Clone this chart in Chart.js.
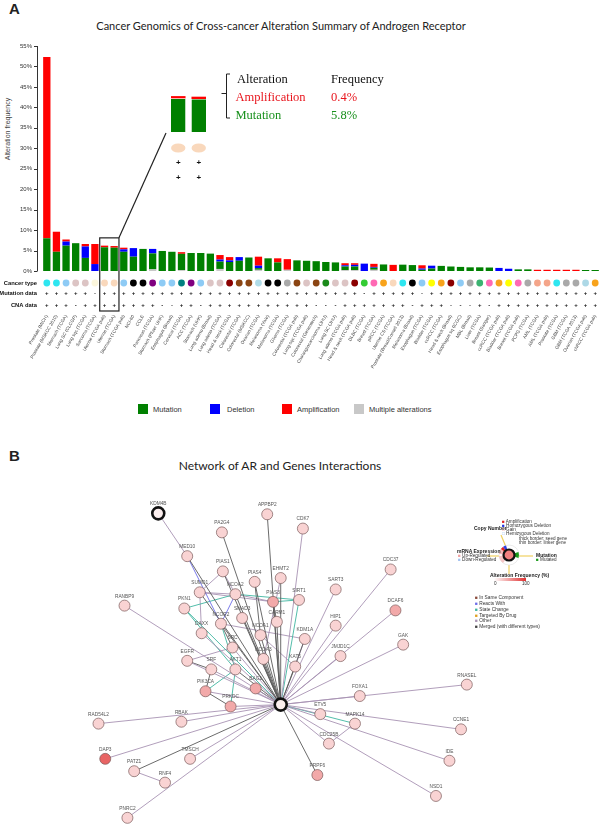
<!DOCTYPE html>
<html>
<head>
<meta charset="utf-8">
<script src="https://cdn.jsdelivr.net/npm/chart.js@4.4.1/dist/chart.umd.min.js"></script>
<style>
html,body{margin:0;padding:0;background:#fff;}
body{position:relative;width:600px;height:839px;overflow:hidden;font-family:"Liberation Sans",Arial,sans-serif;color:#222;}
canvas{position:absolute;}
.t{position:absolute;white-space:nowrap;line-height:1;transform:translateY(-50%);}
.c{position:absolute;white-space:nowrap;line-height:1;transform:translate(-50%,-50%);}
.sq{position:absolute;width:10px;height:10px;}
.lg{position:absolute;white-space:nowrap;line-height:1;transform:translateY(-50%);font-size:4.6px;color:#333;}
.lgb{position:absolute;white-space:nowrap;line-height:1;transform:translateY(-50%);font-size:5px;font-weight:bold;color:#222;}
.ser{font-family:"Liberation Serif","Times New Roman",serif;font-size:12.5px;}
</style>
</head>
<body>
<div class="t" style="left:9px;top:8px;font:bold 15px 'Liberation Sans';">A</div>
<div class="c" style="left:281px;top:25px;font:11px Lato;color:#222">Cancer Genomics of Cross-cancer Alteration Summary of Androgen Receptor</div>
<div class="c" style="left:7px;top:129px;font:7px 'Liberation Sans';transform:translate(-50%,-50%) rotate(-90deg);color:#444">Alteration frequency</div>

<canvas id="main" width="600" height="371" style="left:0;top:0"></canvas>
<canvas id="inset" width="41" height="100" style="left:168px;top:88px"></canvas>

<svg width="600" height="200" style="position:absolute;left:0;top:0" xmlns="http://www.w3.org/2000/svg">
  <path d="M230 74 L226.5 74 L226.5 118 L230 118 M226.5 93.5 L221.5 93.5" stroke="#222" stroke-width="1" fill="none"/>
</svg>
<div class="t ser" style="left:237px;top:79px;color:#111">Alteration</div>
<div class="t ser" style="left:331px;top:79px;color:#111">Frequency</div>
<div class="t ser" style="left:235.5px;top:97px;color:#e8141c">Amplification</div>
<div class="t ser" style="left:331px;top:97px;color:#e8141c">0.4%</div>
<div class="t ser" style="left:235.5px;top:115px;color:#18901c">Mutation</div>
<div class="t ser" style="left:331px;top:115px;color:#18901c">5.8%</div>

<div class="sq" style="left:138px;top:404px;background:#008000"></div>
<div class="t" style="left:153px;top:409px;font:7.5px 'Liberation Sans';color:#333">Mutation</div>
<div class="sq" style="left:210px;top:404px;background:#0000ff"></div>
<div class="t" style="left:227px;top:409px;font:7.5px 'Liberation Sans';color:#333">Deletion</div>
<div class="sq" style="left:282px;top:404px;background:#ff0000"></div>
<div class="t" style="left:297px;top:409px;font:7.5px 'Liberation Sans';color:#333">Amplification</div>
<div class="sq" style="left:354px;top:404px;background:#c8c8c8"></div>
<div class="t" style="left:369px;top:409px;font:7.5px 'Liberation Sans';color:#333">Multiple alterations</div>

<div class="t" style="left:9px;top:455px;font:bold 15px 'Liberation Sans';">B</div>
<div class="c" style="left:280px;top:465px;font:12px Lato;color:#222">Network of AR and Genes Interactions</div>

<canvas id="net" width="480" height="355" style="left:60px;top:480px"></canvas>

<svg width="120" height="80" style="position:absolute;left:450px;top:512px" xmlns="http://www.w3.org/2000/svg">
  <g transform="translate(59,43)">
    <line x1="-8" y1="-20" x2="-3" y2="-8" stroke="#f0d060" stroke-width="1.2"/>
    <line x1="-22" y1="1" x2="-10" y2="1" stroke="#f0d060" stroke-width="1.2"/>
    <line x1="10" y1="1" x2="24" y2="1" stroke="#f0d060" stroke-width="1.2"/>
    <line x1="0" y1="10" x2="0" y2="19" stroke="#f0d060" stroke-width="1.2"/>
    <circle r="10" fill="#fff" stroke="#ddd" stroke-width="0.6"/>
    <path d="M0 0 L-10 -1 A10 10 0 0 1 -6 -8 Z" fill="#f4b6b6"/>
    <path d="M0 0 L-10 1 A10 10 0 0 0 -6 8 Z" fill="#f4c6c6"/>
    <path d="M0 0 L-6 -8 A10 10 0 0 1 -3 -9.5 Z" fill="#3040e0"/>
    <path d="M0 0 L-8 -6 A10 10 0 0 1 -6 -8 Z" fill="#e02020"/>
    <path d="M0 0 L9.5 -3 A10 10 0 0 1 9.5 3 Z" fill="#1a9a1a"/>
    <circle r="5.5" fill="#f08080" stroke="#111" stroke-width="2.2"/>
  </g>
</svg>
<div class="lgb" style="left:474px;top:528px">Copy Number</div>
<div class="lg" style="left:502px;top:522px"><span style="color:#e02020">&#9632;</span> Amplification</div>
<div class="lg" style="left:502px;top:526px"><span style="color:#2030e0">&#9632;</span> Homozygous Deletion</div>
<div class="lg" style="left:502px;top:530px"><span style="color:#f0a0a0">&#9633;</span> Gain</div>
<div class="lg" style="left:502px;top:534px"><span style="color:#a0c0f0">&#9633;</span> Hemizygous Deletion</div>
<div class="lg" style="left:519px;top:539px">thick border: seed gene</div>
<div class="lg" style="left:519px;top:543px">thin border: linker gene</div>
<div class="lgb" style="left:457px;top:551px">mRNA Expression</div>
<div class="lg" style="left:458px;top:556px"><span style="color:#f0a0a0">&#9632;</span> Up-Regulated</div>
<div class="lg" style="left:458px;top:560px"><span style="color:#a0c0f0">&#9632;</span> Down-Regulated</div>
<div class="lgb" style="left:536px;top:555px">Mutation</div>
<div class="lg" style="left:536px;top:560px"><span style="color:#1a9a1a">&#9632;</span> Mutated</div>
<div class="lgb" style="left:490px;top:575px">Alteration Frequency (%)</div>
<div style="position:absolute;left:494px;top:578px;width:32px;height:3px;background:linear-gradient(90deg,#fff,#e03030)"></div>
<div class="lg" style="left:494px;top:584px">0</div>
<div class="lg" style="left:522px;top:584px">100</div>

<div class="lg" style="left:475px;top:598px;font-size:4.8px"><span style="color:#8a4a3a">&#9632;</span> In Same Component</div>
<div class="lg" style="left:475px;top:604px;font-size:4.8px"><span style="color:#6d6de8">&#9632;</span> Reacts With</div>
<div class="lg" style="left:475px;top:610px;font-size:4.8px"><span style="color:#3fb5a0">&#9632;</span> State Change</div>
<div class="lg" style="left:475px;top:616px;font-size:4.8px"><span style="color:#e0a020">&#9632;</span> Targeted By Drug</div>
<div class="lg" style="left:475px;top:621px;font-size:4.8px"><span style="color:#a893b3">&#9632;</span> Other</div>
<div class="lg" style="left:475px;top:627px;font-size:4.8px"><span style="color:#444">&#9632;</span> Merged (with different types)</div>

<script>
// ---------------- Panel A data ----------------
const categories = ["Prostate (MICH)","Prostate (MSKCC 2010)","Stomach (TCGA)","Lung SC (CLCGP)","Lung sqc (TCGA)","Sarcoma (TCGA)","Uterine (TCGA pub)","Uterine (TCGA)","Stomach (TCGA pub)","NCI-60","CCLE","Pancreas (TCGA)","Stomach (Pfizer UHK)","Esophagus (Broad)","Cervical (TCGA)","ACC (TCGA)","Stomach (UHK)","Lung adeno (Broad)","Lung adeno (TCGA)","Head & neck (TCGA)","Colorectal (TCGA)","Colorectal (MSKCC)","Ovarian (TCGA)","Melanoma (Yale)","Melanoma (TCGA)","Glioma (TCGA)","Colorectal (TCGA pub)","Lung sqc (TCGA pub)","Colorectal (Genentech)","Cholangiocarcinoma (JHU)","Lung SC (JHU)","Lung adeno (TCGA pub)","Head & neck (TCGA pub)","DLBC (TCGA)","Breast (TCGA)","pRCC (TCGA)","Uterine CS (TCGA)","Prostate (Broad/Cornell 2013)","Melanoma (Broad)","Esophagus (TCGA)","Bladder (TCGA)","ccRCC (TCGA)","Head & neck (Broad)","Esophagus sq (ICGC)","MBL (Broad)","Liver (TCGA)","Breast (Sanger)","ccRCC (TCGA pub)","Bladder (TCGA pub)","Breast (TCGA pub)","PCPG (TCGA)","AML (TCGA)","AML (TCGA pub)","Prostate (TCGA)","GBM (TCGA)","GBM (TCGA 2013)","Ovarian (TCGA pub)","chRCC (TCGA pub)"];
const mutation = [8.0,4.7,6.2,6.8,3.2,0,5.8,5.7,4.7,3.5, 5.4,3.9,4.9,4.7,4.0,4.4,4.4,4.25,1.8,2.2, 2.5,3.3,0.4,3.1,2.1,0,2.6,2.5,2.4,2.2, 2.1,0.9,0.9,0,0.5,1.6,0,1.55,1.45,0.3, 0.6,1.25,1.1,1.0,0.9,0.9,0.85,0,0,0.4, 0.4,0,0,0,0,0,0.25,0.25];
const deletion = [0,0,1.0,0,2.8,1.7,0,0,0.6,2.1, 0,1.1,0,0,0,0,0,0,0.5,0.4, 0.9,0,0.6,0,0,0,0,0,0,0, 0,0.3,0.4,1.8,0.2,0,0,0,0,0.3, 0.7,0,0,0,0,0,0,0.75,0.55,0, 0,0,0,0,0,0,0,0];
const amplification = [44.3,4.9,0.5,0,0.6,4.9,0.4,0.4,0.4,0, 0,0,0,0,0.4,0,0,0,1.1,0.8, 0,0,2.2,0,1.0,2.6,0,0,0,0, 0,0.5,0.4,0,0.75,0,1.5,0,0,0.8, 0,0,0,0,0,0,0,0,0,0, 0,0.3,0.3,0.3,0.3,0.3,0,0];
const multipleAlterations = [0,0,0,0,0,0,0,0,0,0, 0,0.4,0,0,0.2,0,0,0,0.5,0, 0,0,0.3,0,0,0.3,0,0,0,0, 0,0.2,0.2,0,0.3,0,0,0,0,0, 0,0,0,0,0,0,0,0,0,0, 0,0,0,0,0,0,0,0];
const cancerTypeColors = ["#2ee6f0","#2ee6f0","#8ecbf5","#dcc4c4","#dcc4c4","#fbf6dc","#f9d8bc","#f9d8bc","#8ecbf5","#000000","#000000","#800080","#8ecbf5","#8ecbf5","#008080","#800080","#8ecbf5","#dcc4c4","#dcc4c4","#8b0000","#8b4513","#8b4513","#b0dce8","#000000","#000000","#a9a9a9","#8b4513","#dcc4c4","#8b4513","#1a8a1a","#dcc4c4","#dcc4c4","#8b0000","#33cc33","#ff69b4","#f8a31c","#f9d8bc","#2ee6f0","#000000","#8ecbf5","#ffff00","#f8a31c","#8b0000","#8ecbf5","#a9a9a9","#3cb371","#ff69b4","#f8a31c","#ffff00","#ff69b4","#a9a9a9","#f4a58a","#f4a58a","#2ee6f0","#a9a9a9","#a9a9a9","#add8e6","#f8a31c"];
const mutationData = ["+","+","+","+","+","-","+","+","+","+", "+","+","+","+","+","+","+","+","+","+", "+","+","+","+","+","+","+","+","+","+", "+","+","+","-","+","+","+","+","+","-", "+","+","+","+","+","+","+","+","+","+", "+","+","+","+","+","+","+","+"];
const cnaData = ["+","+","+","-","+","+","+","+","+","+", "+","+","-","-","+","+","-","+","+","+", "+","+","+","+","+","+","+","+","-","-", "-","+","+","+","+","+","+","+","-","+", "+","+","-","-","-","+","-","+","+","+", "+","+","+","+","+","+","+","+"];
const yMax = 55, yStep = 5;
const insetIdx = [6, 7];
const boxTopValue = 8.1;

// ---------------- Panel B data ----------------
const nodeNames = ["AR","KDM4B","APPBP2","PA2G4","CDK7","MED10","PIAS1","PIAS4","EHMT2","SUMO1","NCOA2","PIAS3","SIRT1","PKN1","SMAD3","CARM1","NCOR2","DAXX","NCOA1","KDM1A","SRC","EGFR","NCOA3","KAT5","SRF","AKT1","PIK3CA","BAG1","PRKDC","ETV5","RANBP9","RAD54L2","RBAK","DAP3","TMSCH","PATZ1","RNF4","PNRC2","PRPF6","CDC25B","CDC37","SART3","DCAF6","HIP1","JMJD1C","GAK","RNASEL","FOXA1","MAPK14","CCNE1","IDE","NSD1"];
const layoutX = [220,93,206,159,243,123,160,193,220,136,173,212,239,120,180,216,158,138,199,245,170,123,202,235,148,173,142,194,168,261,58,31,117,38,126,68,100,61,258,270,334,277,339,277,282,347,413,302,297,407,395,381];
const layoutY = [227,26,27,46,42,71,87,98,94,109,111,119,117,126,136,140,142,152,154,158,167,181,179,187,190,190,213,210,229,237,123,247,245,284,284,297,309,346,301,268,85,106,128,144,176,164,206,218,247,253,286,323];
const nodeTier = [0,0,0,0,0,0,0,0,0,0,0,1,0,0,0,0,0,0,0,0,0,0,0,0,0,0,1,1,1,0,0,0,0,2,0,0,0,0,1,0,0,0,1,0,0,0,0,0,0,0,0,0];
const seedNodes = ["AR","KDM4B"];
const edgeSource = ["AR","AR","AR","AR","AR","AR","AR","AR","AR","AR","AR","AR","AR","AR","AR","AR","AR","AR","AR","AR","AR","AR","AR","AR","AR","AR","AR","AR","AR","AR","AR","AR","AR","AR","AR","AR","AR","AR","AR","AR","AR","AR","AR","AR","AR","AR","AR","AR","AR",
  "KDM4B","MED10","PKN1","PKN1","NCOA2","NCOA2","NCOA2","NCOA2","SUMO1","SUMO1","SUMO1","PIAS3","PIAS4","NCOR2","NCOR2","NCOR2","SRC","EGFR","SRF","PIK3CA","AKT1","PIK3CA","EHMT2","NCOA1","KAT5","PIAS3","MAPK14","PATZ1","NCOA2"];
const edgeTarget = ["APPBP2","PA2G4","CDK7","MED10","CDC37","SART3","DCAF6","HIP1","JMJD1C","GAK","RNASEL","FOXA1","ETV5","MAPK14","CCNE1","CDC25B","IDE","NSD1","PRPF6","RANBP9","RAD54L2","RBAK","DAP3","TMSCH","PATZ1","PNRC2","PIAS1","PIAS4","EHMT2","NCOA2","PIAS3","SIRT1","CARM1","SMAD3","NCOR2","DAXX","NCOA1","KDM1A","SRC","EGFR","NCOA3","KAT5","SRF","AKT1","PIK3CA","BAG1","PRKDC","PKN1","SUMO1",
  "MED10","NCOR2","NCOA2","AKT1","SIRT1","PIAS1","SUMO1","NCOR2","DAXX","PIAS1","PIAS3","CARM1","NCOA1","KDM1A","SRC","AKT1","EGFR","SRF","PIK3CA","AKT1","PRKDC","PRKDC","NCOA3","KAT5","KDM1A","SIRT1","CDC25B","RNF4","PIAS3"];
const edgeKind = ["merged","merged","other","merged","other","other","other","other","other","other","other","other","other","state","other","other","other","other","merged","other","other","other","other","other","merged","other","merged","merged","merged","merged","merged","state","merged","merged","merged","other","merged","merged","other","other","merged","merged","other","merged","other","merged","other","state","merged",
  "other","reacts","state","state","state","other","other","reacts","other","other","other","merged","merged","other","merged","state","other","merged","merged","state","state","merged","other","other","other","state","other","other","other"];

// ---------------- Panel A chart ----------------
const mainDecor = {
  id: 'mainDecor',
  afterDraw(chart) {
    const {ctx, chartArea: a, scales: {x, y}} = chart;
    ctx.save();
    const ax = a.left - 5;
    ctx.strokeStyle = '#333'; ctx.lineWidth = 1;
    ctx.beginPath();
    ctx.moveTo(ax + 0.5, y.getPixelForValue(0));
    ctx.lineTo(ax + 0.5, y.getPixelForValue(yMax));
    ctx.stroke();
    y.ticks.forEach(t => {
      const py = Math.round(y.getPixelForValue(t.value)) + 0.5;
      ctx.beginPath(); ctx.moveTo(ax - 3, py); ctx.lineTo(ax + 0.5, py); ctx.stroke();
    });
    const r1 = a.bottom + 12, r2 = a.bottom + 22.5, r3 = a.bottom + 34.5;
    ctx.fillStyle = '#111';
    ctx.font = 'bold 5.8px "Liberation Sans"';
    ctx.textAlign = 'right'; ctx.textBaseline = 'middle';
    ctx.fillText('Cancer type', ax, r1);
    ctx.fillText('Mutation data', ax, r2);
    ctx.fillText('CNA data', ax, r3);
    ctx.textAlign = 'center';
    ctx.font = 'bold 6px "Liberation Sans"';
    categories.forEach((c, i) => {
      const px = x.getPixelForValue(i);
      ctx.beginPath(); ctx.arc(px, r1, 3.4, 0, Math.PI * 2);
      ctx.fillStyle = cancerTypeColors[i]; ctx.fill();
      ctx.fillStyle = '#111';
      ctx.fillText(mutationData[i] === '+' ? '+' : '-', px, r2);
      ctx.fillText(cnaData[i] === '+' ? '+' : '-', px, r3);
    });
    // highlight box around the inset categories
    const half = (x.getPixelForValue(1) - x.getPixelForValue(0)) / 2;
    const bx0 = x.getPixelForValue(insetIdx[0]) - half;
    const bx1 = x.getPixelForValue(insetIdx[1]) + half;
    const by0 = y.getPixelForValue(boxTopValue);
    const by1 = a.bottom + 40;
    ctx.strokeStyle = '#222'; ctx.lineWidth = 1.2;
    ctx.strokeRect(bx0, by0, bx1 - bx0, by1 - by0);
    ctx.beginPath(); ctx.moveTo(bx1, by0); ctx.lineTo(166, 133); ctx.stroke();
    ctx.restore();
  }
};

new Chart(document.getElementById('main'), {
  type: 'bar',
  data: {
    labels: categories,
    datasets: [
      {label: 'Multiple alterations', data: multipleAlterations, backgroundColor: '#c8c8c8'},
      {label: 'Mutation', data: mutation, backgroundColor: '#008000'},
      {label: 'Deletion', data: deletion, backgroundColor: '#0000ff'},
      {label: 'Amplification', data: amplification, backgroundColor: '#ff0000'}
    ]
  },
  options: {
    responsive: false, animation: false, devicePixelRatio: 1,
    layout: {padding: {top: 46, left: 0, right: 0, bottom: 0}},
    datasets: {bar: {barPercentage: 0.76, categoryPercentage: 1}},
    plugins: {legend: {display: false}, tooltip: {enabled: false}},
    scales: {
      x: {
        stacked: true,
        grid: {display: false, drawTicks: false}, border: {display: false},
        ticks: {autoSkip: false, maxRotation: 60, minRotation: 60, padding: 43, color: '#444',
                font: {family: 'Liberation Sans', size: 4.6}},
        afterFit(s) { s.height = 100; s.paddingLeft = 0; s.paddingRight = 0; }
      },
      y: {
        stacked: true, min: 0, max: yMax,
        grid: {display: false, drawTicks: false}, border: {display: false},
        ticks: {stepSize: yStep, padding: 10, color: '#333', font: {family: 'Liberation Sans', size: 6},
                callback: v => v + '%'},
        afterFit(s) { s.width = 42; }
      }
    }
  },
  plugins: [mainDecor]
});

// ---------------- Inset (zoom of two categories) ----------------
const insetDecor = {
  id: 'insetDecor',
  afterDraw(chart) {
    const {ctx, chartArea: a, scales: {x}} = chart;
    ctx.save();
    insetIdx.forEach((ci, k) => {
      const px = x.getPixelForValue(k);
      ctx.beginPath(); ctx.ellipse(px, a.bottom + 16, 7.2, 4.6, 0, 0, Math.PI * 2);
      ctx.fillStyle = cancerTypeColors[ci]; ctx.fill();
      ctx.fillStyle = '#111'; ctx.font = 'bold 8px "Liberation Sans"';
      ctx.textAlign = 'center'; ctx.textBaseline = 'middle';
      ctx.fillText(mutationData[ci], px, a.bottom + 31);
      ctx.fillText(cnaData[ci], px, a.bottom + 46);
    });
    ctx.restore();
  }
};
new Chart(document.getElementById('inset'), {
  type: 'bar',
  data: {
    labels: insetIdx.map(i => categories[i]),
    datasets: [
      {label: 'Mutation', data: insetIdx.map(i => mutation[i]), backgroundColor: '#008000', borderColor: '#ffffff', borderWidth: {top: 0.6}},
      {label: 'Amplification', data: insetIdx.map(i => amplification[i]), backgroundColor: '#ff0000'}
    ]
  },
  options: {
    responsive: false, animation: false, devicePixelRatio: 1,
    layout: {padding: {top: 0, bottom: 56, left: 0, right: 0}},
    datasets: {bar: {barPercentage: 0.71, categoryPercentage: 1}},
    plugins: {legend: {display: false}, tooltip: {enabled: false}},
    scales: {
      x: {stacked: true, display: false},
      y: {stacked: true, display: false, min: 0, max: 7.6}
    }
  },
  plugins: [insetDecor]
});

// ---------------- Panel B network ----------------
const kindColor = {other: '#a893b3', merged: '#5a5a5a', state: '#3fb5a0', reacts: '#6d6de8'};
const tierColor = ['#f9d3d3', '#f2a9a9', '#e86464'];
const ni = n => nodeNames.indexOf(n);
const edgeDatasets = edgeSource.map((s, k) => {
  const a = ni(s), b = ni(edgeTarget[k]);
  return {
    data: [{x: layoutX[a], y: layoutY[a]}, {x: layoutX[b], y: layoutY[b]}],
    showLine: true, pointRadius: 0, borderWidth: 0.9,
    borderColor: kindColor[edgeKind[k]], order: 2, clip: false
  };
});
const nodeDataset = {
  data: nodeNames.map((n, i) => ({x: layoutX[i], y: layoutY[i]})),
  pointRadius: nodeNames.map(n => seedNodes.includes(n) ? 6 : 5.5),
  backgroundColor: nodeNames.map((n, i) => seedNodes.includes(n) ? '#fbeeee' : tierColor[nodeTier[i]]),
  borderColor: nodeNames.map(n => seedNodes.includes(n) ? '#111' : '#7a5a5a'),
  borderWidth: nodeNames.map(n => seedNodes.includes(n) ? 2.6 : 0.7),
  order: 1, clip: false
};
const nodeLabels = {
  id: 'nodeLabels',
  afterDatasetsDraw(chart) {
    const {ctx, scales: {x, y}} = chart;
    ctx.save();
    ctx.font = '4.8px "Liberation Sans"';
    ctx.fillStyle = '#555'; ctx.textAlign = 'center'; ctx.textBaseline = 'bottom';
    nodeNames.forEach((n, i) => {
      if (n === 'AR') return;
      ctx.fillText(n, x.getPixelForValue(layoutX[i]), y.getPixelForValue(layoutY[i]) - 7);
    });
    ctx.restore();
  }
};
new Chart(document.getElementById('net'), {
  type: 'scatter',
  data: {datasets: [nodeDataset, ...edgeDatasets]},
  options: {
    responsive: false, animation: false, devicePixelRatio: 1,
    layout: {padding: 0},
    plugins: {legend: {display: false}, tooltip: {enabled: false}},
    scales: {
      x: {type: 'linear', min: 0, max: 480, display: false},
      y: {type: 'linear', min: 0, max: 355, reverse: true, display: false}
    }
  },
  plugins: [nodeLabels]
});
</script>
</body>
</html>
